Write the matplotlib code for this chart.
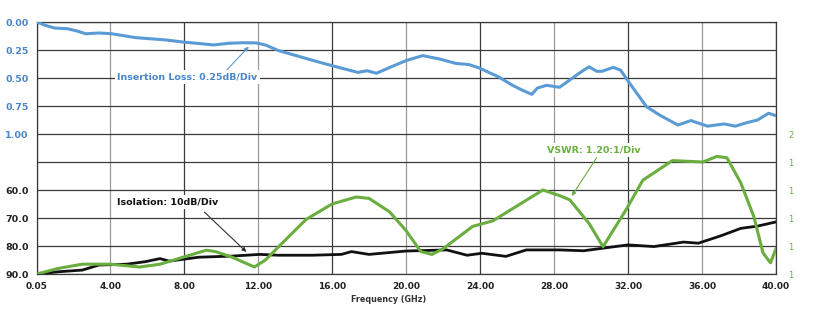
import matplotlib.pyplot as plt
from matplotlib.ticker import FixedLocator, FixedFormatter

# insertion loss (dB), read on the upper scale
il_freq = [0.05, 0.5, 1.0, 1.7, 2.2, 2.7, 3.4, 4.1, 5.4, 7.0, 8.0, 9.0, 9.6, 10.4,
           11.2, 11.9, 12.4, 13.1, 14.9, 16.0, 17.4, 17.9, 18.4, 19.2, 20.0, 20.9,
           21.8, 22.7, 23.4, 23.95, 25.0, 25.7, 26.3, 26.8, 27.1, 27.6, 28.3, 29.0,
           29.6, 29.9, 30.3, 30.6, 31.2, 31.6, 32.1, 33.0, 33.7, 34.7, 35.4, 36.3,
           37.2, 37.8, 38.4, 39.0, 39.6, 40.0]
il_db = [0.00, 0.03, 0.054, 0.06, 0.08, 0.105, 0.098, 0.105, 0.14, 0.16, 0.18,
         0.195, 0.205, 0.19, 0.185, 0.187, 0.205, 0.255, 0.34, 0.39, 0.45, 0.435,
         0.458, 0.40, 0.345, 0.30, 0.33, 0.37, 0.38, 0.41, 0.49, 0.56, 0.61, 0.646,
         0.59, 0.565, 0.583, 0.50, 0.43, 0.40, 0.44, 0.44, 0.405, 0.43, 0.55, 0.756,
         0.83, 0.92, 0.88, 0.93, 0.91, 0.93, 0.90, 0.875, 0.815, 0.837]

# isolation (dB), read on the lower scale
iso_freq = [0.05, 1.2, 2.5, 3.4, 4.9, 5.9, 6.7, 7.2, 8.8, 10.6, 12.1, 13.1, 14.9,
            16.5, 17.05, 18.0, 20.0, 22.2, 23.3, 24.1, 25.4, 26.5, 28.3, 29.6,
            30.85, 32.0, 33.4, 35.0, 35.8, 37.0, 38.1, 39.0, 40.0]
iso_db = [90.0, 89.2, 88.6, 86.8, 86.5, 85.6, 84.5, 85.4, 84.0, 83.6, 83.0, 83.3,
          83.3, 83.0, 82.0, 83.0, 81.8, 81.4, 83.3, 82.6, 83.7, 81.4, 81.4, 81.7,
          80.6, 79.6, 80.2, 78.6, 79.0, 76.4, 73.7, 72.9, 71.4]

# VSWR, read on the right scale
vswr_freq = [0.05, 1.2, 2.5, 4.0, 5.6, 6.7, 7.7, 9.2, 9.7, 10.6, 11.8, 12.4, 13.15,
             14.6, 16.0, 17.3, 18.0, 19.1, 20.0, 20.8, 21.4, 22.0, 23.6, 24.7,
             25.8, 27.4, 28.3, 28.85, 29.9, 30.65, 31.9, 32.8, 34.4, 36.05, 36.8,
             37.35, 38.1, 38.8, 39.3, 39.7, 40.0]
vswr = [1.00, 1.04, 1.07, 1.07, 1.05, 1.07, 1.11, 1.17, 1.16, 1.12, 1.05, 1.10,
        1.20, 1.39, 1.50, 1.55, 1.54, 1.445, 1.31, 1.16, 1.14, 1.18, 1.34, 1.38,
        1.47, 1.60, 1.56, 1.53, 1.36, 1.195, 1.46, 1.67, 1.81, 1.80, 1.84, 1.83,
        1.65, 1.41, 1.15, 1.08, 1.18]

freq_ticks = [0.05, 4, 8, 12, 16, 20, 24, 28, 32, 36, 40]
freq_labels = ['0.05', '4.00', '8.00', '12.00', '16.00', '20.00', '24.00',
               '28.00', '32.00', '36.00', '40.00']
il_ticks = [0.0, 0.25, 0.5, 0.75, 1.0]
iso_ticks = [60, 70, 80, 90]
vswr_ticks = [1.0, 1.2, 1.4, 1.6, 1.8, 2.0]
vswr_labels = ['1', '1', '1', '1', '1', '2']

BLUE = '#5b9bd5'
BLUE_TXT = '#4a86c8'
GREEN = '#6aae3f'
BLACK = '#111111'
DARK = '#3a3a3a'
LIGHT = '#9a9a9a'

fig = plt.figure(figsize=(8.22, 3.29), dpi=100)
ax = fig.add_axes([37 / 822, 55 / 329, 739 / 822, 252 / 329])

# base axis carries isolation, 9 divisions of 10 dB
ax.set_xlim(0.05, 40)
ax.set_ylim(90, 0)
ax.yaxis.set_major_locator(FixedLocator(iso_ticks))
ax.yaxis.set_major_formatter(FixedFormatter([f'{v:.1f}' for v in iso_ticks]))
ax.yaxis.set_minor_locator(FixedLocator([0, 10, 20, 30, 40, 50]))
ax.xaxis.set_major_locator(FixedLocator(freq_ticks))
ax.xaxis.set_major_formatter(FixedFormatter(freq_labels))
ax.tick_params(axis='both', which='both', length=0)
ax.tick_params(axis='y', pad=6, labelsize=6.8, labelcolor='#222222')
ax.tick_params(axis='x', pad=6, labelsize=6.5, labelcolor='#222222')
for lab in ax.get_xticklabels() + ax.get_yticklabels():
    lab.set_fontweight('bold')

ax.grid(True, which='both', color=DARK, lw=0.9)
ax.set_axisbelow(True)
for i, gl in enumerate(ax.get_xgridlines()):
    gl.set_color(DARK if i % 2 == 0 else LIGHT)
for sp in ax.spines.values():
    sp.set_color(DARK)
    sp.set_linewidth(0.9)

ax.plot(iso_freq, iso_db, color=BLACK, lw=2.0, solid_joinstyle='round', zorder=3)

# insertion loss on the same grid, 0.25 dB per division
ax_il = ax.twinx()
ax_il.set_ylim(2.25, 0)
ax_il.yaxis.tick_left()
ax_il.set_yticks(il_ticks)
ax_il.set_yticklabels([f'{v:.2f}' for v in il_ticks])
ax_il.tick_params(axis='y', length=0, pad=6, labelsize=6.8, labelcolor=BLUE_TXT)
for lab in ax_il.get_yticklabels():
    lab.set_fontweight('bold')
for sp in ax_il.spines.values():
    sp.set_visible(False)
ax_il.plot(il_freq, il_db, color=BLUE, lw=2.2, solid_joinstyle='round')

# VSWR on the right, 0.2 per division
ax_v = ax.twinx()
ax_v.set_ylim(1.0, 2.8)
ax_v.set_yticks(vswr_ticks)
ax_v.set_yticklabels(vswr_labels)
ax_v.tick_params(axis='y', length=0, pad=9, labelsize=6, labelcolor=GREEN)
for sp in ax_v.spines.values():
    sp.set_visible(False)
ax_v.plot(vswr_freq, vswr, color=GREEN, lw=2.2, solid_joinstyle='round')

# callouts
box = dict(boxstyle='square,pad=0.25', fc='white', ec='none')
ax_il.text(8.17, 0.49, 'Insertion Loss: 0.25dB/Div', color=BLUE_TXT, fontsize=6.8,
           fontweight='bold', ha='center', va='center', bbox=box, zorder=5)
ax_il.annotate('', xy=(11.5, 0.22), xytext=(10.3, 0.43),
               arrowprops=dict(arrowstyle='-|>', color=BLUE, lw=0.8,
                               mutation_scale=6, shrinkA=0, shrinkB=0))

ax.text(7.1, 64.3, 'Isolation: 10dB/Div', color=BLACK, fontsize=6.8,
        fontweight='bold', ha='center', va='center', bbox=box, zorder=5)
ax.annotate('', xy=(11.37, 82.1), xytext=(9.1, 67.9),
            arrowprops=dict(arrowstyle='-|>', color='#333333', lw=0.8,
                            mutation_scale=6, shrinkA=0, shrinkB=0))

ax_v.text(30.15, 1.886, 'VSWR: 1.20:1/Div', color=GREEN, fontsize=6.8,
          fontweight='bold', ha='center', va='center', bbox=box, zorder=5)
ax_v.annotate('', xy=(28.96, 1.557), xytext=(30.3, 1.83),
              arrowprops=dict(arrowstyle='-|>', color=GREEN, lw=0.8,
                              mutation_scale=6, shrinkA=0, shrinkB=0))

fig.text(389 / 822, 1 - 299 / 329, 'Frequency (GHz)', ha='center', va='center',
         fontsize=5.8, fontweight='bold', color='#333333')

fig.savefig('out.png', dpi=100)
